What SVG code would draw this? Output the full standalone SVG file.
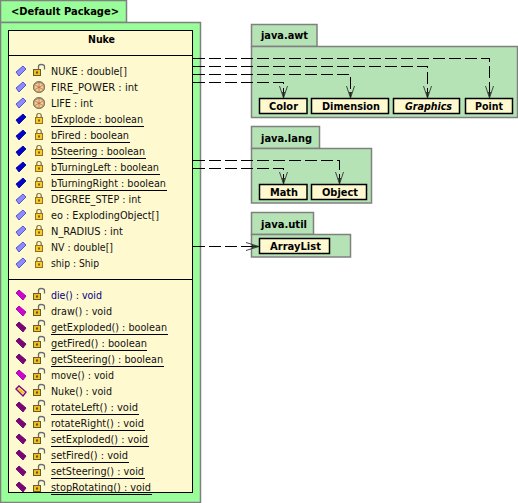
<svg xmlns="http://www.w3.org/2000/svg" width="518" height="503" viewBox="0 0 518 503">
<style>
.t{font:11px "DejaVu Sans",sans-serif;fill:#111}
.b{font:bold 11px "DejaVu Sans",sans-serif;fill:#000}
.pk{fill:#b5e3b5;stroke:#808080;stroke-width:1.5}
.df{fill:#99fd99;stroke:#808080;stroke-width:1.5}
.cl{fill:#fff9d0;stroke:#000;stroke-width:1.5}
.u{stroke:#000;stroke-width:1;shape-rendering:crispEdges}
.dash{fill:none;stroke:#000;stroke-width:1;stroke-dasharray:12 4;stroke-dashoffset:-1;shape-rendering:crispEdges}
.ah{fill:none;stroke:#333;stroke-width:.9}
</style>
<defs>
<polygon id="fa" points="16,1 23,-5 26,-2 19,5" fill="#8c8cff" stroke="#3a3ac0" stroke-width=".8"/>
<polygon id="fd" points="16,1 23,-5 26,-2 19,5" fill="#0000d0" stroke="#000080" stroke-width=".8"/>
<polygon id="mm" points="16,-2 19,-5 26,1 23,5" fill="#d800d8" stroke="#800080" stroke-width=".8"/>
<polygon id="md" points="16,-2 19,-5 26,1 23,5" fill="#800080" stroke="#500050" stroke-width=".8"/>
<g id="mc"><polygon points="16,-2 19,-5 26,1 23,5" fill="#f8f0a0" stroke="#800080" stroke-width="1.4"/><path d="M18.5,-2 L23.5,2" stroke="#e8c800" stroke-width="2"/></g>
<g id="lo"><rect x="33.5" y="-1.5" width="7" height="6" fill="#f0c020" stroke="#6a5a30"/><rect x="36" y="0.5" width="2" height="2" fill="#6a4a00"/><path d="M38.5,-1.5 V-4.5 Q38.5,-6.5 41,-6.5 Q44.5,-6.5 44.5,-4.5 V-1.5" fill="none" stroke="#6a6a70" stroke-width="1.3"/></g>
<g id="lc"><rect x="35.5" y="-1.5" width="7" height="6" fill="#f8cc30" stroke="#907020"/><rect x="38" y="0.5" width="2" height="2" fill="#806000"/><path d="M36.8,-1.5 V-3.5 Q36.8,-5.5 39,-5.5 Q41.2,-5.5 41.2,-3.5 V-1.5" fill="none" stroke="#807040" stroke-width="1.2"/></g>
<g id="cu"><circle cx="39" cy="0" r="5.6" fill="#a8a8a0" stroke="#808078"/><polygon points="39,-5 44,-2.5 44,3 39,5.5 34,3 34,-2.5" fill="#e8d0a0" stroke="#907040" stroke-width=".8"/><path d="M39,-5 V5.5 M34,-2.5 L44,3 M44,-2.5 L34,3" stroke="#c06030" stroke-width=".7"/></g>
<g id="ad"><path d="M-4,-12 L0,0 L4,-12" class="ah"/><path d="M-1.5,-6 L0,0 L1.5,-6Z" fill="#222"/></g>
<g id="ar"><path d="M-13,-4 L0,0 L-13,4" class="ah"/><path d="M-7,-1.5 L0,0 L-7,1.5Z" fill="#222"/></g>
</defs>

<g id="default-package">
<rect class="df" x="0.5" y="0.5" width="126" height="22"/>
<rect class="df" x="0.5" y="22.5" width="200" height="480"/>
<text class="b" x="11" y="15" textLength="108" lengthAdjust="spacingAndGlyphs">&lt;Default Package&gt;</text>
</g>

<g id="java-awt">
<rect class="pk" x="251.5" y="24.5" width="65.5" height="22"/>
<rect class="pk" x="251.5" y="46.5" width="266" height="71"/>
<text class="b" x="261" y="39" textLength="47" lengthAdjust="spacingAndGlyphs">java.awt</text>
</g>
<g id="java-lang">
<rect class="pk" x="251.5" y="126.5" width="68" height="22"/>
<rect class="pk" x="251.5" y="148.5" width="120" height="54.5"/>
<text class="b" x="261" y="142" textLength="51" lengthAdjust="spacingAndGlyphs">java.lang</text>
</g>
<g id="java-util">
<rect class="pk" x="251.5" y="212.5" width="62" height="22"/>
<rect class="pk" x="251.5" y="234.5" width="99" height="22.5"/>
<text class="b" x="261" y="228" textLength="46" lengthAdjust="spacingAndGlyphs">java.util</text>
</g>

<g id="Color"><rect class="cl" x="259.5" y="98.5" width="47.5" height="15"/><text class="b" x="269" y="110" textLength="29" lengthAdjust="spacingAndGlyphs">Color</text></g>
<g id="Dimension"><rect class="cl" x="311.5" y="98.5" width="77" height="15"/><text class="b" x="322" y="110" textLength="58" lengthAdjust="spacingAndGlyphs">Dimension</text></g>
<g id="Graphics"><rect class="cl" x="393.5" y="98.5" width="66" height="15"/><text class="b" x="405" y="110" textLength="47" lengthAdjust="spacingAndGlyphs" style="font-style:italic">Graphics</text></g>
<g id="Point"><rect class="cl" x="465.5" y="98.5" width="47" height="15"/><text class="b" x="475" y="110" textLength="28" lengthAdjust="spacingAndGlyphs">Point</text></g>
<g id="Math"><rect class="cl" x="259.5" y="184.5" width="47.5" height="15"/><text class="b" x="270" y="196" textLength="28" lengthAdjust="spacingAndGlyphs">Math</text></g>
<g id="Object"><rect class="cl" x="311.5" y="184.5" width="55" height="15"/><text class="b" x="322" y="196" textLength="36" lengthAdjust="spacingAndGlyphs">Object</text></g>
<g id="ArrayList"><rect class="cl" x="259.5" y="238.5" width="70" height="15"/><text class="b" x="270" y="250" textLength="51" lengthAdjust="spacingAndGlyphs">ArrayList</text></g>

<g id="Nuke">
<rect x="8.5" y="30.5" width="184" height="462" fill="#fff9d0" stroke="#000" stroke-width="1"/>
<path class="u" d="M8,55.5H192M8,279.5H192"/>
<text class="b" x="88" y="43" textLength="27" lengthAdjust="spacingAndGlyphs">Nuke</text>

<use href="#fa" y="71"/><use href="#lo" y="71"/><text class="t" x="51" y="75" textLength="76" lengthAdjust="spacingAndGlyphs">NUKE : double[]</text>
<use href="#fa" y="87"/><use href="#cu" y="87"/><text class="t" x="51" y="91" textLength="87" lengthAdjust="spacingAndGlyphs">FIRE_POWER : int</text>
<use href="#fa" y="103"/><use href="#cu" y="103"/><text class="t" x="51" y="107" textLength="42" lengthAdjust="spacingAndGlyphs">LIFE : int</text>
<use href="#fd" y="119"/><use href="#lc" y="119"/><text class="t" x="51" y="123" textLength="92" lengthAdjust="spacingAndGlyphs">bExplode : boolean</text><path class="u" d="M51,126.5H144"/>
<use href="#fd" y="135"/><use href="#lc" y="135"/><text class="t" x="51" y="139" textLength="78" lengthAdjust="spacingAndGlyphs">bFired : boolean</text><path class="u" d="M51,142.5H130"/>
<use href="#fd" y="151"/><use href="#lc" y="151"/><text class="t" x="51" y="155" textLength="94" lengthAdjust="spacingAndGlyphs">bSteering : boolean</text><path class="u" d="M51,158.5H146"/>
<use href="#fd" y="167"/><use href="#lc" y="167"/><text class="t" x="51" y="171" textLength="108" lengthAdjust="spacingAndGlyphs">bTurningLeft : boolean</text><path class="u" d="M51,174.5H160"/>
<use href="#fd" y="183"/><use href="#lc" y="183"/><text class="t" x="51" y="187" textLength="115" lengthAdjust="spacingAndGlyphs">bTurningRight : boolean</text><path class="u" d="M51,190.5H167"/>
<use href="#fa" y="199"/><use href="#lc" y="199"/><text class="t" x="51" y="203" textLength="90" lengthAdjust="spacingAndGlyphs">DEGREE_STEP : int</text>
<use href="#fa" y="215"/><use href="#lc" y="215"/><text class="t" x="51" y="219" textLength="108" lengthAdjust="spacingAndGlyphs">eo : ExplodingObject[]</text>
<use href="#fa" y="231"/><use href="#lc" y="231"/><text class="t" x="51" y="235" textLength="72" lengthAdjust="spacingAndGlyphs">N_RADIUS : int</text>
<use href="#fa" y="247"/><use href="#lc" y="247"/><text class="t" x="51" y="251" textLength="62" lengthAdjust="spacingAndGlyphs">NV : double[]</text>
<use href="#fa" y="263"/><use href="#lc" y="263"/><text class="t" x="51" y="267" textLength="48" lengthAdjust="spacingAndGlyphs">ship : Ship</text>

<use href="#mm" y="295"/><use href="#lo" y="295"/><text class="t" x="51" y="299" textLength="51" lengthAdjust="spacingAndGlyphs" style="fill:#000080">die() : void</text>
<use href="#mm" y="311"/><use href="#lo" y="311"/><text class="t" x="51" y="315" textLength="61" lengthAdjust="spacingAndGlyphs">draw() : void</text>
<use href="#md" y="327"/><use href="#lo" y="327"/><text class="t" x="51" y="331" textLength="116" lengthAdjust="spacingAndGlyphs">getExploded() : boolean</text><path class="u" d="M51,334.5H168"/>
<use href="#md" y="343"/><use href="#lo" y="343"/><text class="t" x="51" y="347" textLength="96" lengthAdjust="spacingAndGlyphs">getFired() : boolean</text><path class="u" d="M51,350.5H147"/>
<use href="#md" y="359"/><use href="#lo" y="359"/><text class="t" x="51" y="363" textLength="112" lengthAdjust="spacingAndGlyphs">getSteering() : boolean</text><path class="u" d="M51,366.5H164"/>
<use href="#mm" y="375"/><use href="#lo" y="375"/><text class="t" x="51" y="379" textLength="63" lengthAdjust="spacingAndGlyphs">move() : void</text>
<use href="#mc" y="391"/><use href="#lo" y="391"/><text class="t" x="51" y="395" textLength="61" lengthAdjust="spacingAndGlyphs">Nuke() : void</text>
<use href="#md" y="407"/><use href="#lo" y="407"/><text class="t" x="51" y="411" textLength="87" lengthAdjust="spacingAndGlyphs">rotateLeft() : void</text><path class="u" d="M51,414.5H139"/>
<use href="#md" y="423"/><use href="#lo" y="423"/><text class="t" x="51" y="427" textLength="93" lengthAdjust="spacingAndGlyphs">rotateRight() : void</text><path class="u" d="M51,430.5H145"/>
<use href="#md" y="439"/><use href="#lo" y="439"/><text class="t" x="51" y="443" textLength="97" lengthAdjust="spacingAndGlyphs">setExploded() : void</text><path class="u" d="M51,446.5H149"/>
<use href="#md" y="455"/><use href="#lo" y="455"/><text class="t" x="51" y="459" textLength="77" lengthAdjust="spacingAndGlyphs">setFired() : void</text><path class="u" d="M51,462.5H129"/>
<use href="#md" y="471"/><use href="#lo" y="471"/><text class="t" x="51" y="475" textLength="93" lengthAdjust="spacingAndGlyphs">setSteering() : void</text><path class="u" d="M51,478.5H145"/>
<use href="#md" y="487"/><use href="#lo" y="487"/><text class="t" x="51" y="491" textLength="100" lengthAdjust="spacingAndGlyphs">stopRotating() : void</text><path class="u" d="M51,494.5H152"/>
</g>

<g id="connectors">
<path class="dash" d="M192,58.5H489.5V98"/><use href="#ad" x="489.5" y="98"/>
<path class="dash" d="M192,66.5H427.5V98"/><use href="#ad" x="427.5" y="98"/>
<path class="dash" d="M192,74.5H350.5V98"/><use href="#ad" x="350.5" y="98"/>
<path class="dash" d="M192,82.5H283.5V98"/><use href="#ad" x="283.5" y="98"/>
<path class="dash" d="M192,160.5H339.5V184"/><use href="#ad" x="339.5" y="184"/>
<path class="dash" d="M192,168.5H283.5V184"/><use href="#ad" x="283.5" y="184"/>
<path class="dash" d="M192,246.5H259"/><use href="#ar" x="259" y="246.5"/>
</g>
</svg>
